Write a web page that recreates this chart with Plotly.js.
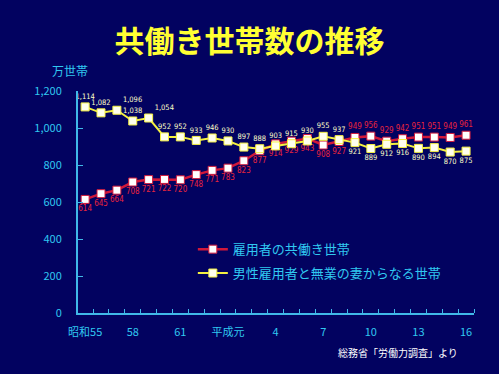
<!DOCTYPE html>
<html><head><meta charset="utf-8">
<script src="https://cdn.plot.ly/plotly-3.0.1.min.js"></script>
<style>html,body{margin:0;padding:0;background:#020260;}</style>
</head><body>
<div id="chart" style="width:499px;height:374px;"></div>
<script>
const years = [1980,1981,1982,1983,1984,1985,1986,1987,1988,1989,1990,1991,1992,1993,1994,1995,1996,1997,1998,1999,2000,2001,2002,2003,2004];
const dualEarner = [614,645,664,708,721,722,720,748,771,783,823,877,914,929,943,908,927,949,956,929,942,951,951,949,961];
const singleEarner = [1114,1082,1096,1038,1054,952,952,933,946,930,897,888,903,915,930,955,937,921,889,912,916,890,894,870,875];
const tickYears = [1980,1983,1986,1989,1992,1995,1998,2001,2004];
const tickLabels = ['昭和55','58','61','平成元','4','7','10','13','16'];
const seriesNames = ['雇用者の共働き世帯','男性雇用者と無業の妻からなる世帯'];

const font = '"Noto Sans CJK JP", "Liberation Sans", sans-serif';
const narrow = '"Liberation Sans Narrow", "DejaVu Sans Condensed", sans-serif';
const fmt = v => v >= 1000 ? Math.floor(v / 1000) + ',' + String(v % 1000).padStart(3, '0') : String(v);
const redPos = years.map(y => y >= 1997 ? 'top center' : 'bottom center');
const whitePos = years.map(y => y >= 1997 ? 'bottom center' : ((y === 1982 || y === 1984) ? 'top right' : 'top center'));

const traces = [
  {x: years, y: dualEarner, name: seriesNames[0], legendgroup: 'a', type: 'scatter', mode: 'lines+markers+text',
   text: dualEarner.map(fmt), textposition: redPos,
   textfont: {family: narrow, size: 8, color: '#e8243c'},
   line: {color: '#d0183a', width: 2.5},
   marker: {symbol: 'square', size: 8, color: '#ffffff', line: {color: '#d0183a', width: 1}}},
  {x: years, y: singleEarner, name: seriesNames[1], legendgroup: 'b', type: 'scatter', mode: 'lines+markers+text',
   text: singleEarner.map(fmt), textposition: whitePos,
   textfont: {family: narrow, size: 7.5, color: '#ffffc8'},
   line: {color: '#f4f040', width: 2},
   marker: {symbol: 'square', size: 8, color: '#ffffee', line: {color: '#f4f040', width: 1}}}
];

const layout = {
  width: 499, height: 374,
  paper_bgcolor: '#020260', plot_bgcolor: '#020260',
  margin: {l: 78, r: 25, t: 91, b: 61},
  title: {text: '共働き世帯数の推移', x: 0.5, xanchor: 'center', y: 0.888, yanchor: 'middle',
          font: {family: font, size: 30, color: '#ffff33', weight: 'bold'}},
  showlegend: true,
  legend: {x: 0.29, y: 0.355, xanchor: 'left', yanchor: 'top', bgcolor: 'rgba(0,0,0,0)',
           traceorder: 'grouped', tracegroupgap: 4,
           font: {family: font, size: 13, color: '#30c8f0'}},
  xaxis: {range: [1979.55, 2004.5], tickvals: tickYears, ticktext: tickLabels, ticks: '',
          ticklabelstandoff: 8,
          showgrid: false, zeroline: false, showline: true, linecolor: '#40b8e8', linewidth: 2,
          tickfont: {family: font, size: 11, color: '#30c8f0'},
          minor: {tick0: 1979.5, dtick: 1, ticks: 'inside', ticklen: 4, tickcolor: '#40b8e8', tickwidth: 1, showgrid: false}},
  yaxis: {range: [0, 1200], tickvals: [0,200,400,600,800,1000,1200], tickformat: ',d',
          ticks: 'inside', ticklen: 5, tickcolor: '#40b8e8', showgrid: false, zeroline: false,
          ticklabelstandoff: 12,
          showline: true, linecolor: '#40b8e8', linewidth: 2,
          tickfont: {family: font, size: 11, color: '#30c8f0'}},
  annotations: [
    {text: '万世帯', xref: 'paper', yref: 'paper', x: -0.02, y: 1.045, xanchor: 'center', yanchor: 'bottom',
     showarrow: false, font: {family: font, size: 12, color: '#30c8f0'}},
    {text: '総務省「労働力調査」より', xref: 'paper', yref: 'paper', x: 0.965, y: -0.18, xanchor: 'right', yanchor: 'middle',
     showarrow: false, font: {family: font, size: 10, color: '#ffffff'}}
  ]
};
Plotly.newPlot('chart', traces, layout, {staticPlot: true, displayModeBar: false});
</script>
</body></html>
